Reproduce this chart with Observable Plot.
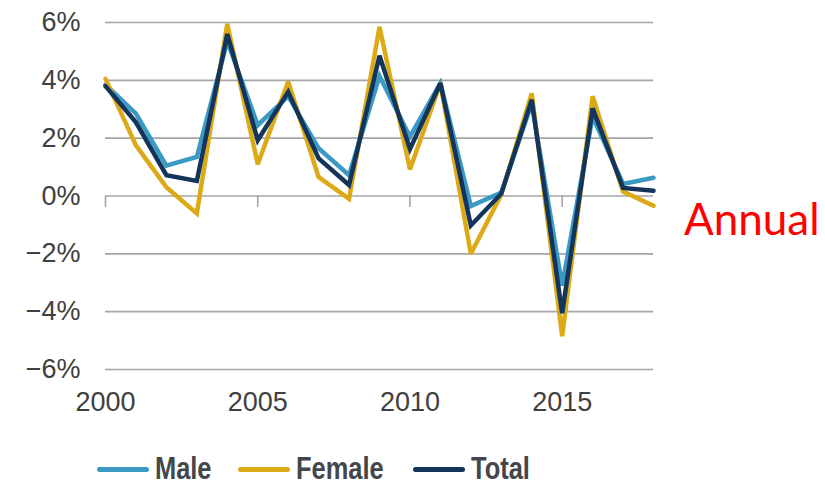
<!DOCTYPE html>
<html>
<head>
<meta charset="utf-8">
<script src="https://cdn.jsdelivr.net/npm/d3@7"></script>
<script src="https://cdn.jsdelivr.net/npm/@observablehq/plot@0.6"></script>
<style>
  body { margin: 0; background: #fff; }
  #wrap { position: relative; width: 825px; height: 488px; overflow: hidden; }
  #annual { position: absolute; left: 684px; top: 196px; font-family: Lato, "Open Sans", sans-serif; font-size: 44px; color: #ff0000; line-height: 1; }
  #legend { position: absolute; left: 0; top: 452px; width: 825px; height: 34px; }
  .item { position: absolute; top: 0; height: 34px; display: flex; align-items: center; }
  .sw { width: 52px; height: 5px; border-radius: 3px; margin-right: 6px; flex: none; }
  .lb { display: inline-block; font-family: "Liberation Sans", Arial, sans-serif; font-weight: bold; font-size: 31px; color: #43474b; transform: scaleX(0.82); transform-origin: left center; white-space: nowrap; }
</style>
</head>
<body>
<div id="wrap">
  <div id="chart"></div>
  <div id="annual">Annual</div>
  <div id="legend"></div>
</div>
<script>
const years = [2000,2001,2002,2003,2004,2005,2006,2007,2008,2009,2010,2011,2012,2013,2014,2015,2016,2017,2018];
const male   = [3.85, 2.85, 1.05, 1.35, 5.35, 2.45, 3.45, 1.65, 0.72, 4.15, 2.05, 3.9, -0.35, 0.12, 3.2, -3.1, 2.75, 0.42, 0.63];
const female = [4.05, 1.75, 0.3, -0.6, 5.95, 1.1, 3.95, 0.65, -0.1, 5.85, 0.92, 3.9, -2.0, 0.05, 3.55, -4.85, 3.45, 0.15, -0.34];
const total  = [3.8, 2.55, 0.72, 0.52, 5.6, 1.93, 3.6, 1.3, 0.38, 4.85, 1.62, 3.9, -1.02, 0.08, 3.33, -4.05, 3.03, 0.28, 0.18];
const seriesNames = ["Male", "Female", "Total"];
const seriesColors = ["#3b9ac4", "#dcaa17", "#13355c"];
const xTicks = [2000, 2005, 2010, 2015];
const yTicks = [-6, -4, -2, 0, 2, 4, 6];

const seriesValues = [male, female, total];
const rows = [];
seriesNames.forEach((name, i) => {
  years.forEach((yr, j) => rows.push({series: name, year: yr, value: seriesValues[i][j]}));
});

const chart = Plot.plot({
  width: 825,
  height: 430,
  marginLeft: 105,
  marginRight: 172,
  marginTop: 22,
  marginBottom: 61,
  style: { fontFamily: "'Liberation Sans', Arial, sans-serif", fontSize: "27px", color: "#404040", background: "transparent" },
  x: { domain: [2000, 2018], label: null },
  y: { domain: [-6, 6], label: null },
  color: { domain: seriesNames, range: seriesColors },
  marks: [
    Plot.gridY(yTicks, { stroke: "#a6a6a6", strokeOpacity: 1, strokeWidth: 1.6 }),
    Plot.ruleX(xTicks, { x: d => d, y1: 0, y2: -0.4, stroke: "#a6a6a6", strokeWidth: 1.6 }),
    Plot.axisY(yTicks, { tickSize: 0, tickPadding: 25, label: null, tickFormat: d => (d < 0 ? "\u2212" + Math.abs(d) : d) + "%", fill: "#404040", fontSize: 27 }),
    Plot.axisX(xTicks, { tickSize: 0, tickPadding: 22, label: null, tickFormat: d => String(d), fill: "#404040", fontSize: 27 }),
    Plot.line(rows, { x: "year", y: "value", z: "series", stroke: "series", strokeWidth: 4.5, strokeLinejoin: "miter", strokeMiterlimit: 3 })
  ]
});
document.getElementById("chart").appendChild(chart);

const legend = document.getElementById("legend");
const lefts = [97, 238, 413];
seriesNames.forEach((name, i) => {
  const it = document.createElement("div");
  it.className = "item";
  it.style.left = lefts[i] + "px";
  const sw = document.createElement("div");
  sw.className = "sw";
  sw.style.background = seriesColors[i];
  const lb = document.createElement("span");
  lb.className = "lb";
  lb.textContent = name;
  it.appendChild(sw);
  it.appendChild(lb);
  legend.appendChild(it);
});
</script>
</body>
</html>
